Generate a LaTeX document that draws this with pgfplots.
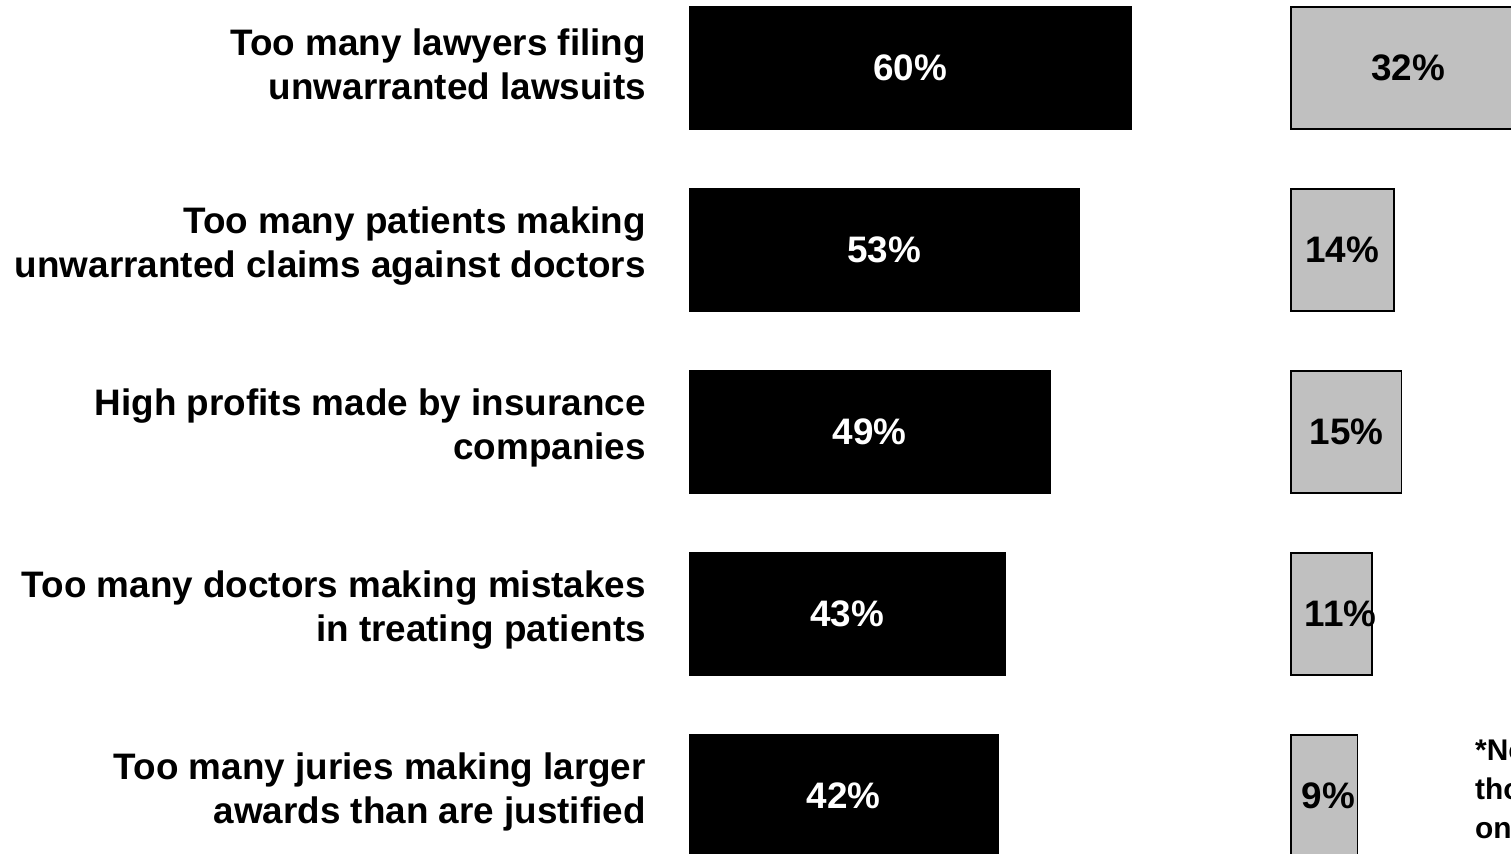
\documentclass[border=0pt]{standalone}
\usepackage{pgfplots}
\usepackage{pgfplotstable}
\pgfplotsset{compat=1.18}
\usepackage{fontspec}
\setmainfont{Liberation Sans}
\definecolor{barGray}{HTML}{C0C0C0}

\pgfplotstableread{
k v
0 60
1 53
2 49
3 43
4 42
}\blackdata
% lx = horizontal position of the value label
\pgfplotstableread{
k v lx
0 32 15.89
1 14 6.92
2 15 7.55
3 11 6.75
4 9 5.10
}\graydata

\begin{document}
\begin{tikzpicture}
\path[use as bounding box, clip] (0,0) rectangle (1511bp,854bp);
% ---- left group (black bars) ----
\begin{axis}[
  at={(0,0)}, anchor=south west,
  scale only axis, width=1511bp, height=854bp,
  xmin=-93.55, xmax=111.61,
  ymin=-0.3736, ymax=4.3187, y dir=reverse,
  axis line style={draw=none}, major tick length=0pt,
  xtick=\empty,
  ytick={0,1,2,3,4},
  yticklabels={{Too many lawyers filing\\unwarranted lawsuits},
               {Too many patients making\\unwarranted claims against doctors},
               {High profits made by insurance\\companies},
               {Too many doctors making mistakes\\in treating patients},
               {Too many juries making larger\\awards than are justified}},
  yticklabel style={align=right, anchor=east, inner sep=0pt, xshift=646bp, yshift=4bp,
    font=\bfseries\fontsize{37}{44}\selectfont},
  /pgf/number format/assume math mode=true,
  clip=true,
]
\addplot[xbar, bar width=123bp, fill=black, draw=black, line width=0.5bp] table[x=v, y=k] {\blackdata};
\addplot[draw=none, mark=none, point meta=explicit,
  nodes near coords={\pgfmathprintnumber{\pgfplotspointmeta}\%},
  nodes near coords align={center},
  every node near coord/.append style={text=white, inner sep=0pt,
    font=\bfseries\fontsize{37}{44}\selectfont}]
  table[x expr=\thisrow{v}/2, y=k, meta=v] {\blackdata};
\end{axis}
% ---- right group (gray bars) ----
\begin{axis}[
  at={(0,0)}, anchor=south west,
  scale only axis, width=1511bp, height=854bp,
  xmin=-175.29, xmax=29.87,
  ymin=-0.3736, ymax=4.3187, y dir=reverse,
  hide axis,
  /pgf/number format/assume math mode=true,
  clip=true,
]
\addplot[xbar, bar width=122bp, fill=barGray, draw=black, line width=1.5bp] table[x=v, y=k] {\graydata};
\addplot[draw=none, mark=none, point meta=explicit,
  nodes near coords={\pgfmathprintnumber{\pgfplotspointmeta}\%},
  nodes near coords align={center},
  every node near coord/.append style={text=black, inner sep=0pt,
    font=\bfseries\fontsize{37}{44}\selectfont}]
  table[x=lx, y=k, meta=v] {\graydata};
\node[anchor=base west, align=left, inner sep=0pt,
  font=\bfseries\fontsize{30}{39}\selectfont]
  at (axis cs:24.98,4.445) {*Note: among\\those who\\only chose\\large awards};
\end{axis}
\end{tikzpicture}
\end{document}
